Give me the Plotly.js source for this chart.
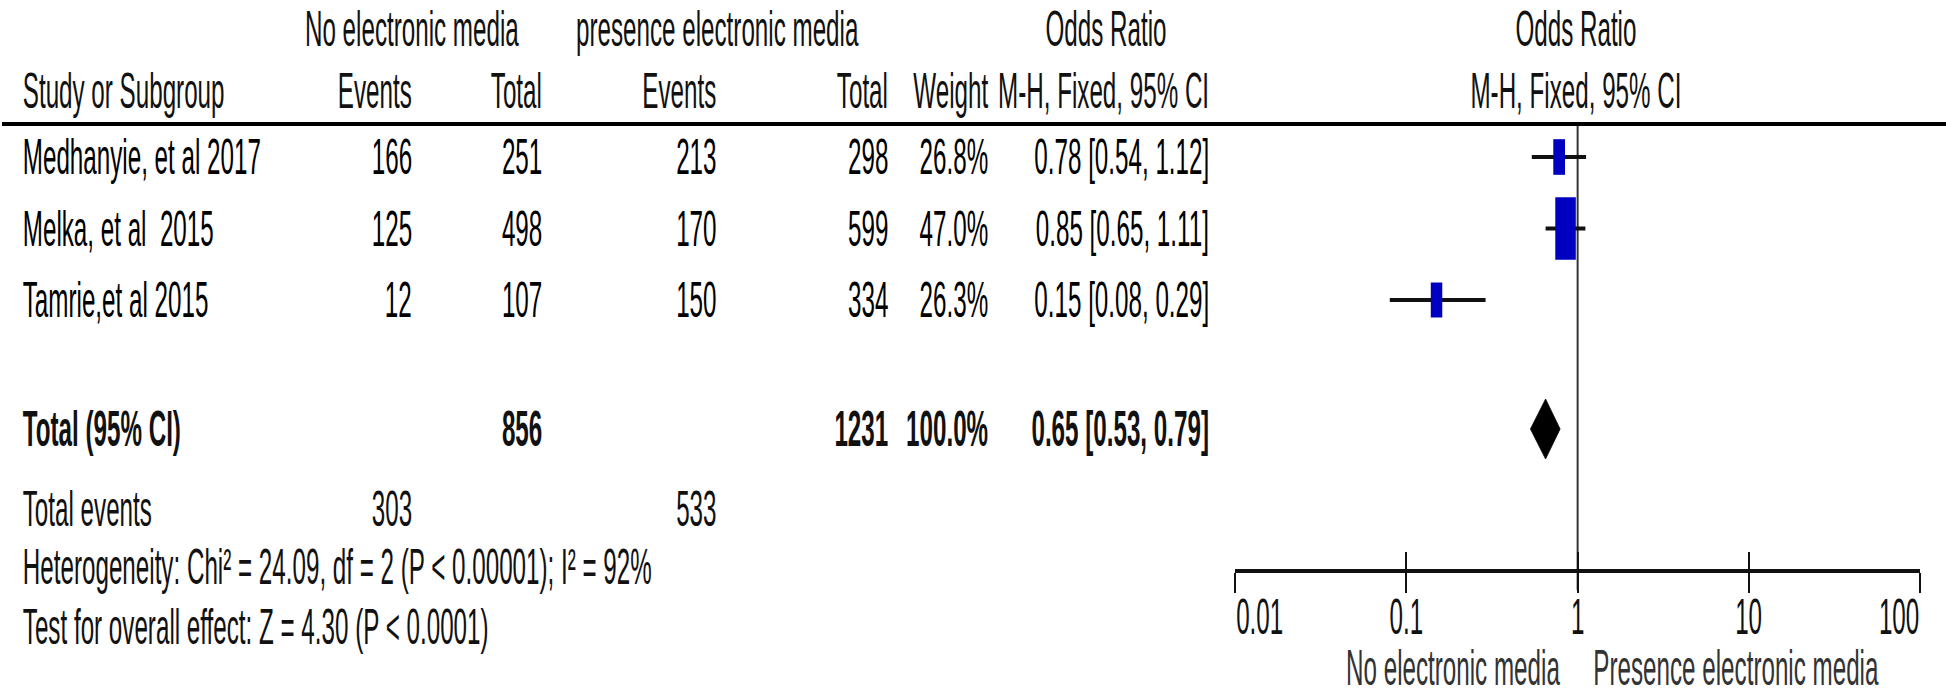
<!DOCTYPE html>
<html>
<head>
<meta charset="utf-8">
<script src="https://cdn.plot.ly/plotly-3.0.1.min.js"></script>
<style>
  html, body { margin: 0; padding: 0; background: #fff; overflow: hidden; }
  #wrap { width: 1946px; height: 696px; overflow: hidden; position: relative; }
  #chart { transform-origin: 0 0; }
</style>
</head>
<body>
<div id="wrap"><div id="chart"></div></div>
<script>
// ---------------- data ----------------
const studies     = ["Medhanyie, et al 2017", "Melka, et al\u00a0 2015", "Tamrie,et al 2015"];
const eventsNo    = [166, 125, 12];
const totalNo     = [251, 498, 107];
const eventsPres  = [213, 170, 150];
const totalPres   = [298, 599, 334];
const weights     = [26.8, 47.0, 26.3];
const oddsRatio   = [0.78, 0.85, 0.15];
const ciLow       = [0.54, 0.65, 0.08];
const ciHigh      = [1.12, 1.11, 0.29];

const pooledLabel     = "Total (95% CI)";
const pooledTotalNo   = 856;
const pooledTotalPres = 1231;
const pooledWeight    = 100.0;
const pooledOR        = 0.65;
const pooledLow       = 0.53;
const pooledHigh      = 0.79;

const totalEventsNo   = 303;
const totalEventsPres = 533;

const hetText  = "Heterogeneity: Chi\u00b2 = 24.09, df = 2 (P &lt; 0.00001); I\u00b2 = 92%";
const testText = "Test for overall effect: Z = 4.30 (P &lt; 0.0001)";

const tickVals   = [0.01, 0.1, 1, 10, 100];
const tickLabels = ["0.01", "0.1", "1", "10", "100"];
const favoursLeft  = "No electronic media";
const favoursRight = "Presence electronic media";

// ---------------- layout helpers ----------------
const W = 1946, H = 696;
const SX = 0.484;             // horizontal squeeze of the whole picture
const FS = 50;                // font size (before squeeze)
const FONT = "Liberation Sans, Arial, sans-serif";
const DARK = "#111";
const VSTROKE = 2 / SX;       // ~2px vertical strokes after squeeze

const chartDiv = document.getElementById("chart");
chartDiv.style.width = (W / SX) + "px";
chartDiv.style.height = H + "px";
chartDiv.style.transform = "scaleX(" + SX + ")";

const P = x => x / W;  // pixel -> paper fraction

const yHead1 = 29, yHead2 = 91, yRule = 124;
const rowY = i => 157 + i * 71.5;
const yTotal = 429, yEvents = 509, yHet = 567, yTest = 627;
const yAxis = 570, yTickLab = 617, yFav = 668;

const colEventsNo = 413, colTotalNo = 543, colEventsPres = 717, colTotalPres = 889,
      colWeight = 989, colOR = 1210, colStudy = 22;

const fmt2 = v => v.toFixed(2);
const orText = (o, l, h) => fmt2(o) + " [" + fmt2(l) + ", " + fmt2(h) + "]";

const ann = [];
function addText(text, x, y, anchor, opts) {
  opts = opts || {};
  ann.push({
    text: opts.bold ? "<b>" + text + "</b>" : text,
    xref: opts.xref || "paper", yref: "y",
    x: opts.xref ? x : P(x), y: y,
    xanchor: anchor, yanchor: "middle",
    showarrow: false,
    font: { family: FONT, size: opts.size || FS, color: opts.color || DARK }
  });
}

// headers
addText("No electronic media", 412, yHead1, "center");
addText("presence electronic media", 717, yHead1, "center");
addText("Odds Ratio", 1106, yHead1, "center");
addText("Odds Ratio", 1576, yHead1, "center");
addText("Study or Subgroup", colStudy, yHead2, "left");
addText("Events", colEventsNo, yHead2, "right");
addText("Total", colTotalNo, yHead2, "right");
addText("Events", colEventsPres, yHead2, "right");
addText("Total", colTotalPres, yHead2, "right");
addText("Weight", colWeight, yHead2, "right");
addText("M-H, Fixed, 95% CI", colOR, yHead2, "right");
addText("M-H, Fixed, 95% CI", 1576, yHead2, "center");

// study rows
studies.forEach((s, i) => {
  const y = rowY(i);
  addText(s, colStudy, y, "left", { color: "#000" });
  addText(String(eventsNo[i]), colEventsNo, y, "right", { color: "#000" });
  addText(String(totalNo[i]), colTotalNo, y, "right", { color: "#000" });
  addText(String(eventsPres[i]), colEventsPres, y, "right", { color: "#000" });
  addText(String(totalPres[i]), colTotalPres, y, "right", { color: "#000" });
  addText(weights[i].toFixed(1) + "%", colWeight, y, "right", { color: "#000" });
  addText(orText(oddsRatio[i], ciLow[i], ciHigh[i]), colOR, y, "right", { color: "#000" });
});

// pooled row
addText(pooledLabel, colStudy, yTotal, "left", { bold: true });
addText(String(pooledTotalNo), colTotalNo, yTotal, "right", { bold: true });
addText(String(pooledTotalPres), colTotalPres, yTotal, "right", { bold: true });
addText(pooledWeight.toFixed(1) + "%", colWeight, yTotal, "right", { bold: true });
addText(orText(pooledOR, pooledLow, pooledHigh), colOR, yTotal, "right", { bold: true });

addText("Total events", colStudy, yEvents, "left");
addText(String(totalEventsNo), colEventsNo, yEvents, "right");
addText(String(totalEventsPres), colEventsPres, yEvents, "right");
addText(hetText, colStudy, yHet, "left");
addText(testText, colStudy, yTest, "left");

// axis tick labels (edge labels kept inside the axis, as in RevMan)
tickVals.forEach((v, i) => {
  const anchor = i === 0 ? "left" : (i === tickVals.length - 1 ? "right" : "center");
  addText(tickLabels[i], Math.log10(v), yTickLab, anchor, { xref: "x" });
});
addText(favoursLeft, 1561, yFav, "right", { color: "#333" });
addText(favoursRight, 1592, yFav, "left", { color: "#333" });

// ---------------- traces ----------------
const ciX = [], ciY = [];
oddsRatio.forEach((o, i) => {
  ciX.push(ciLow[i], ciHigh[i], null);
  ciY.push(rowY(i), rowY(i), null);
});

// box height proportional to weight; box drawn as a thick vertical bar marker
const boxH = weights.map(w => w * 0.95);
const boxW = boxH.map(h => h * 0.46 / SX);

const traces = [
  { type: "scatter", mode: "lines", x: ciX, y: ciY,
    line: { color: DARK, width: 4 }, hoverinfo: "skip", showlegend: false },
  { type: "scatter", mode: "markers", x: oddsRatio, y: studies.map((s, i) => rowY(i)),
    marker: { symbol: "line-ns", size: boxH, opacity: 1,
              line: { color: "#0000c0", width: boxW } },
    hoverinfo: "skip", showlegend: false },
  { type: "scatter", mode: "lines", fill: "toself", fillcolor: "#000",
    x: [pooledLow, pooledOR, pooledHigh, pooledOR, pooledLow],
    y: [yTotal, yTotal - 30, yTotal, yTotal + 30, yTotal],
    line: { color: "#000", width: 1 }, hoverinfo: "skip", showlegend: false },
  { type: "scatter", mode: "markers", x: [1], y: [0], xaxis: "x2",
    marker: { opacity: 0 }, hoverinfo: "skip", showlegend: false }
];

const xDomain = [P(1235), P(1920)];
const axisPos = (H - yAxis) / H;

const layout = {
  width: W / SX, height: H,
  margin: { l: 0, r: 0, t: 0, b: 0 },
  paper_bgcolor: "#fff", plot_bgcolor: "rgba(0,0,0,0)",
  showlegend: false,
  xaxis: {
    type: "log", range: [-2, 2], domain: xDomain, anchor: "free", position: axisPos,
    showline: true, linewidth: 3.5, linecolor: DARK,
    ticks: "outside", ticklen: 20, tickwidth: VSTROKE, tickcolor: DARK,
    tickmode: "array", tickvals: tickVals, showticklabels: false,
    showgrid: false, zeroline: false, fixedrange: true
  },
  xaxis2: {
    type: "log", range: [-2, 2], domain: xDomain, anchor: "free", position: axisPos,
    overlaying: "x", showline: false,
    ticks: "inside", ticklen: 18, tickwidth: VSTROKE, tickcolor: DARK,
    tickmode: "array", tickvals: tickVals, showticklabels: false,
    showgrid: false, zeroline: false, fixedrange: true
  },
  yaxis: { range: [H, 0], domain: [0, 1], visible: false, fixedrange: true },
  shapes: [
    { type: "line", xref: "paper", yref: "y", x0: P(2), x1: 1, y0: yRule, y1: yRule,
      line: { color: "#000", width: 4 } },
    { type: "line", xref: "x", yref: "y", x0: 1, x1: 1, y0: yRule, y1: yAxis + 20,
      line: { color: "#333", width: VSTROKE }, layer: "below" }
  ],
  annotations: ann
};

Plotly.newPlot(chartDiv, traces, layout, { staticPlot: true, displayModeBar: false });
</script>
</body>
</html>
